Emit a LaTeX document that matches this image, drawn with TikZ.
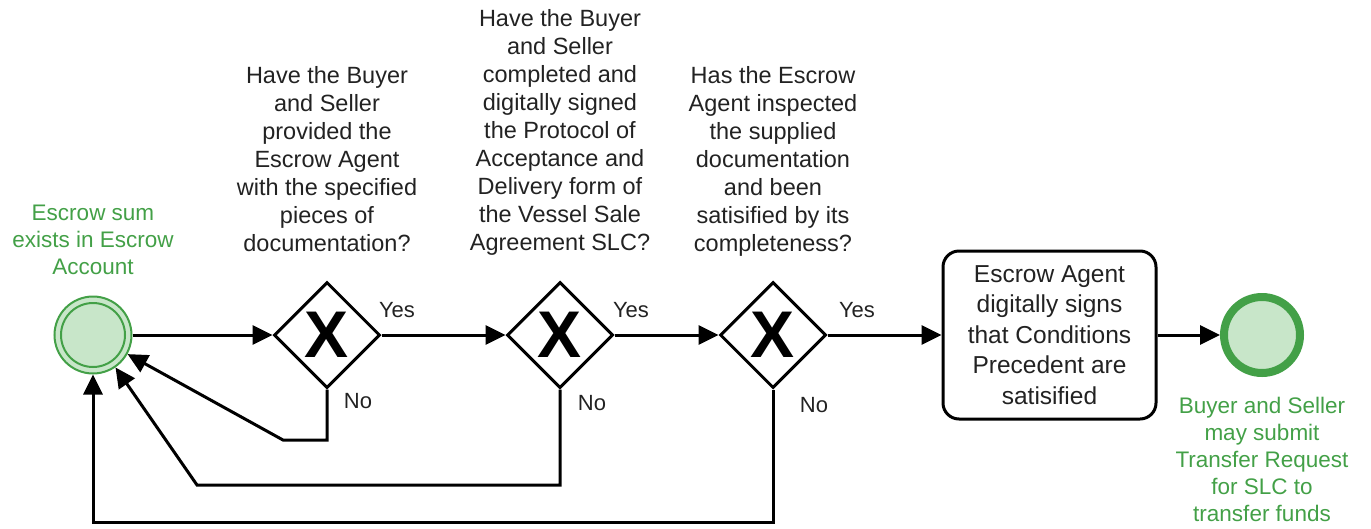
\documentclass[tikz,border=0pt]{standalone}
\usepackage{fontspec}
\setmainfont{Liberation Sans}
\usetikzlibrary{shapes.geometric,arrows.meta}
\definecolor{evgreen}{HTML}{43A047}
\definecolor{evfill}{HTML}{C8E6C9}
\definecolor{txt}{HTML}{222222}
\begin{document}
\begin{tikzpicture}[x=1pt,y=-1pt,
  flow/.style={line width=3pt,-{Triangle[length=20pt,width=19pt]}},
  gate/.style={diamond,draw,line width=3pt,minimum width=106pt,minimum height=106pt,
    inner sep=0pt,font=\fontsize{66}{66}\selectfont\bfseries},
  question/.style={anchor=north,align=center,inner sep=0pt,text=txt,
    font=\fontsize{23.5}{28}\selectfont},
  evlabel/.style={anchor=north,align=center,inner sep=0pt,text=evgreen,
    font=\fontsize{22.5}{27}\selectfont},
  answer/.style={inner sep=0pt,text=txt,font=\fontsize{22}{26}\selectfont},
  taskbox/.style={draw,line width=3pt,rounded corners=16pt,minimum width=213pt,
    minimum height=168pt,align=center,text=txt,font=\fontsize{24.5}{30.5}\selectfont}
]
\useasboundingbox (0,0) rectangle (1371,528);

% start event
\node[circle,draw=evgreen,line width=2pt,fill=evfill,minimum size=77pt,inner sep=0pt] (start) at (93,335) {};
\draw[evgreen,line width=2pt] (start.center) circle (32);
\node[evlabel] (startlbl) at (93,204.5) {Escrow sum\\exists in Escrow\\Account};

% gateways
\node[gate] (g1) at (327,335) {X};
\node[gate] (g2) at (560,335) {X};
\node[gate] (g3) at (773,335) {X};

% questions
\node[question] (q1) at (327,66.5) {Have the Buyer\\and Seller\\provided the\\Escrow Agent\\with the specified\\pieces of\\documentation?};
\node[question] (q2) at (560,9.5) {Have the Buyer\\and Seller\\completed and\\digitally signed\\the Protocol of\\Acceptance and\\Delivery form of\\the Vessel Sale\\Agreement SLC?};
\node[question] (q3) at (773,66.5) {Has the Escrow\\Agent inspected\\the supplied\\documentation\\and been\\satisified by its\\completeness?};

% task
\node[taskbox] (task) at (1049.5,335) {Escrow Agent\\digitally signs\\that Conditions\\Precedent are\\satisified};

% end event
\node[circle,draw=evgreen,line width=8pt,fill=evfill,minimum size=76pt,inner sep=0pt] (end) at (1262,335) {};
\node[evlabel] (endlbl) at (1262,396.5) {Buyer and Seller\\may submit\\Transfer Request\\for SLC to\\transfer funds};

% sequence flows
\draw[flow] (start) -- (g1);
\draw[flow] (g1) -- (g2);
\draw[flow] (g2) -- (g3);
\draw[flow] (g3) -- (task);
\draw[flow] (task) -- (end);

% answers
\node[answer] (y1) at (397,310) {Yes};
\node[answer] (y2) at (631,310) {Yes};
\node[answer] (y3) at (857,310) {Yes};
\node[answer] (n1) at (358,401) {No};
\node[answer] (n2) at (592,403) {No};
\node[answer] (n3) at (814,405) {No};

% loops back to the start
\draw[flow] (g1.south) -- (327,440) -- (283,440) -- (start);
\draw[flow] (g2.south) -- (560,485) -- (197,485) -- (start);
\draw[flow] (g3.south) -- (773,522) -- (93,522) -- (start);
\end{tikzpicture}
\end{document}
